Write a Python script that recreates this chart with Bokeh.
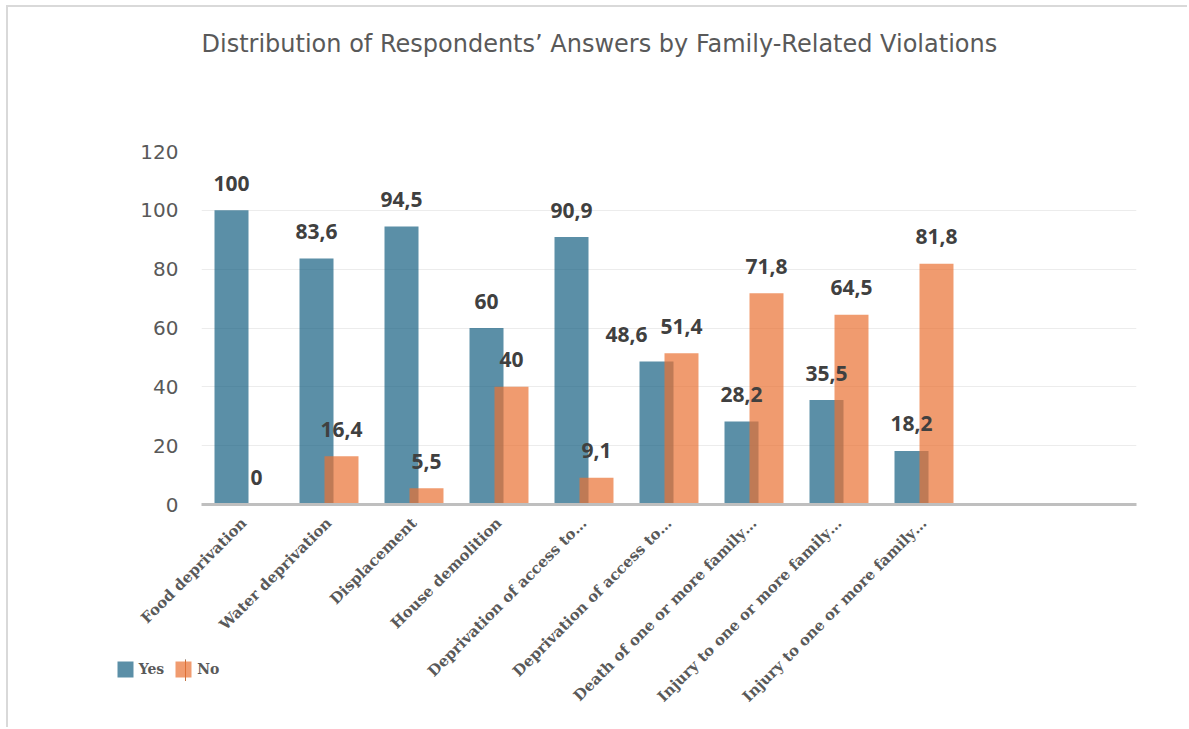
import math
from bokeh.plotting import figure
from bokeh.layouts import column
from bokeh.models import ColumnDataSource, Range1d, FixedTicker, Legend, LegendItem, Title
from bokeh.transform import dodge
from bokeh.core.properties import value
from bokeh.embed import file_html
from bokeh.resources import INLINE

# ---- data ----
categories = [
    "Food deprivation",
    "Water deprivation",
    "Displacement",
    "House demolition",
    "Deprivation of access to…",
    "Deprivation of access to…",
    "Death of one or more family…",
    "Injury to one or more family…",
    "Injury to one or more family…",
]
yes_vals = [100, 83.6, 94.5, 60, 90.9, 48.6, 28.2, 35.5, 18.2]
no_vals = [0, 16.4, 5.5, 40, 9.1, 51.4, 71.8, 64.5, 81.8]
y_ticks = [0, 20, 40, 60, 80, 100, 120]
series_names = ["Yes", "No"]
title_text = "Distribution of Respondents\u2019 Answers by Family-Related Violations"

# label nudges (style only, screen px) to avoid overlapping labels
yes_label_nudge = [0, 0, 0, 0, 0, -30, 0, 0, 0]


def fmt(v):
    return f"{v:g}".replace(".", ",")


YES_COLOR = "#156082"
NO_COLOR = "#E97132"
TEXT_GRAY = "#595959"
LABEL_DARK = "#404040"

src = ColumnDataSource(dict(
    x=list(range(len(categories))),
    yes=yes_vals,
    no=no_vals,
    yes_lbl=[fmt(v) for v in yes_vals],
    no_lbl=[fmt(v) for v in no_vals],
    yes_dx=yes_label_nudge,
))

p = figure(
    width=1181, height=722,
    output_backend="svg", toolbar_location=None,
    x_range=Range1d(-0.5, 10.5), y_range=Range1d(0, 120),
    min_border_left=193, min_border_right=53,
    min_border_top=144, min_border_bottom=225,
)
p.styles = {
    "margin-left": "6px",
    "margin-top": "5px",
    "border-top": "2px solid #d9d9d9",
    "border-left": "2px solid #d9d9d9",
}
p.outline_line_color = None
p.background_fill_color = "white"
p.border_fill_color = "white"

off = 0.147
bw = 0.4
r_yes = p.vbar(x=dodge("x", -off), top="yes", width=bw, source=src,
               fill_color=YES_COLOR, fill_alpha=0.7, line_color=None)
r_no = p.vbar(x=dodge("x", off), top="no", width=bw, source=src,
              fill_color=NO_COLOR, fill_alpha=0.7, line_color=None)

common = dict(text_align="center", text_baseline="alphabetic",
              text_font=value("Open Sans"), text_font_style="bold",
              text_font_size="21px", text_color=LABEL_DARK, y_offset=-27, source=src)
p.text(x=dodge("x", -off), y="yes", text="yes_lbl", x_offset="yes_dx", **common)
p.text(x=dodge("x", off), y="no", text="no_lbl", **common)

# main title (outer) + spacer title next to the frame
p.title.text = title_text
p.title.align = "left"
p.title.offset = 0
p.title.standoff = 0
p.title.text_font = "DejaVu Sans"
p.title.text_font_style = "normal"
p.title.text_font_size = "24px"
p.title.text_color = TEXT_GRAY
spacer = Title(text=" ", text_font_size="10px", standoff=81)
p.add_layout(spacer, "above")

# x axis
xa = p.xaxis[0]
xa.ticker = FixedTicker(ticks=list(range(len(categories))))
xa.major_label_overrides = {i: c for i, c in enumerate(categories)}
xa.major_label_orientation = math.pi / 4
xa.axis_line_color = "#bfbfbf"
xa.axis_line_width = 3
xa.major_tick_line_color = None
xa.minor_tick_line_color = None
xa.major_tick_out = 0
xa.major_tick_in = 0
xa.major_label_standoff = 16
xa.major_label_text_font = "DejaVu Serif"
xa.major_label_text_font_style = "bold"
xa.major_label_text_font_size = "15px"
xa.major_label_text_color = TEXT_GRAY

# y axis
ya = p.yaxis[0]
ya.ticker = FixedTicker(ticks=y_ticks)
ya.axis_line_color = None
ya.major_tick_line_color = None
ya.minor_tick_line_color = None
ya.major_tick_out = 0
ya.major_tick_in = 0
ya.major_label_standoff = 23
ya.major_label_text_font = "DejaVu Sans"
ya.major_label_text_font_size = "20px"
ya.major_label_text_color = TEXT_GRAY

p.xgrid.visible = False
p.ygrid.grid_line_color = "#ececec"
p.ygrid.grid_line_width = 1

# ---- legend: small transparent figure laid over the bottom-left corner ----
# (its bars use the same data but sit outside its visible x range)
q = figure(
    width=124, height=22, output_backend="svg", toolbar_location=None,
    x_axis_type=None, y_axis_type=None, min_border=0,
    x_range=Range1d(100, 101), y_range=Range1d(0, 1),
)
q.outline_line_color = None
q.background_fill_alpha = 0
q.border_fill_alpha = 0
q_yes = q.vbar(x="x", top="yes", width=bw, source=src,
               fill_color=YES_COLOR, fill_alpha=0.7, line_color=None)
q_no = q.vbar(x="x", top="no", width=bw, source=src,
              fill_color=NO_COLOR, fill_alpha=0.7, line_color=None)
legend = Legend(
    items=[LegendItem(label=series_names[0], renderers=[q_yes]),
           LegendItem(label=series_names[1], renderers=[q_no])],
    location="top_left", orientation="horizontal",
    padding=0, margin=0, spacing=9,
    glyph_width=20, glyph_height=20, label_height=20, label_standoff=4,
    label_text_font="DejaVu Serif", label_text_font_style="bold",
    label_text_font_size="14px", label_text_color=TEXT_GRAY,
    border_line_color=None, background_fill_alpha=0,
)
q.add_layout(legend)
q.styles = {"position": "absolute", "left": "114px", "top": "659px"}

layout = column(p, q)
open("out.html", "w").write(file_html(layout, INLINE))
